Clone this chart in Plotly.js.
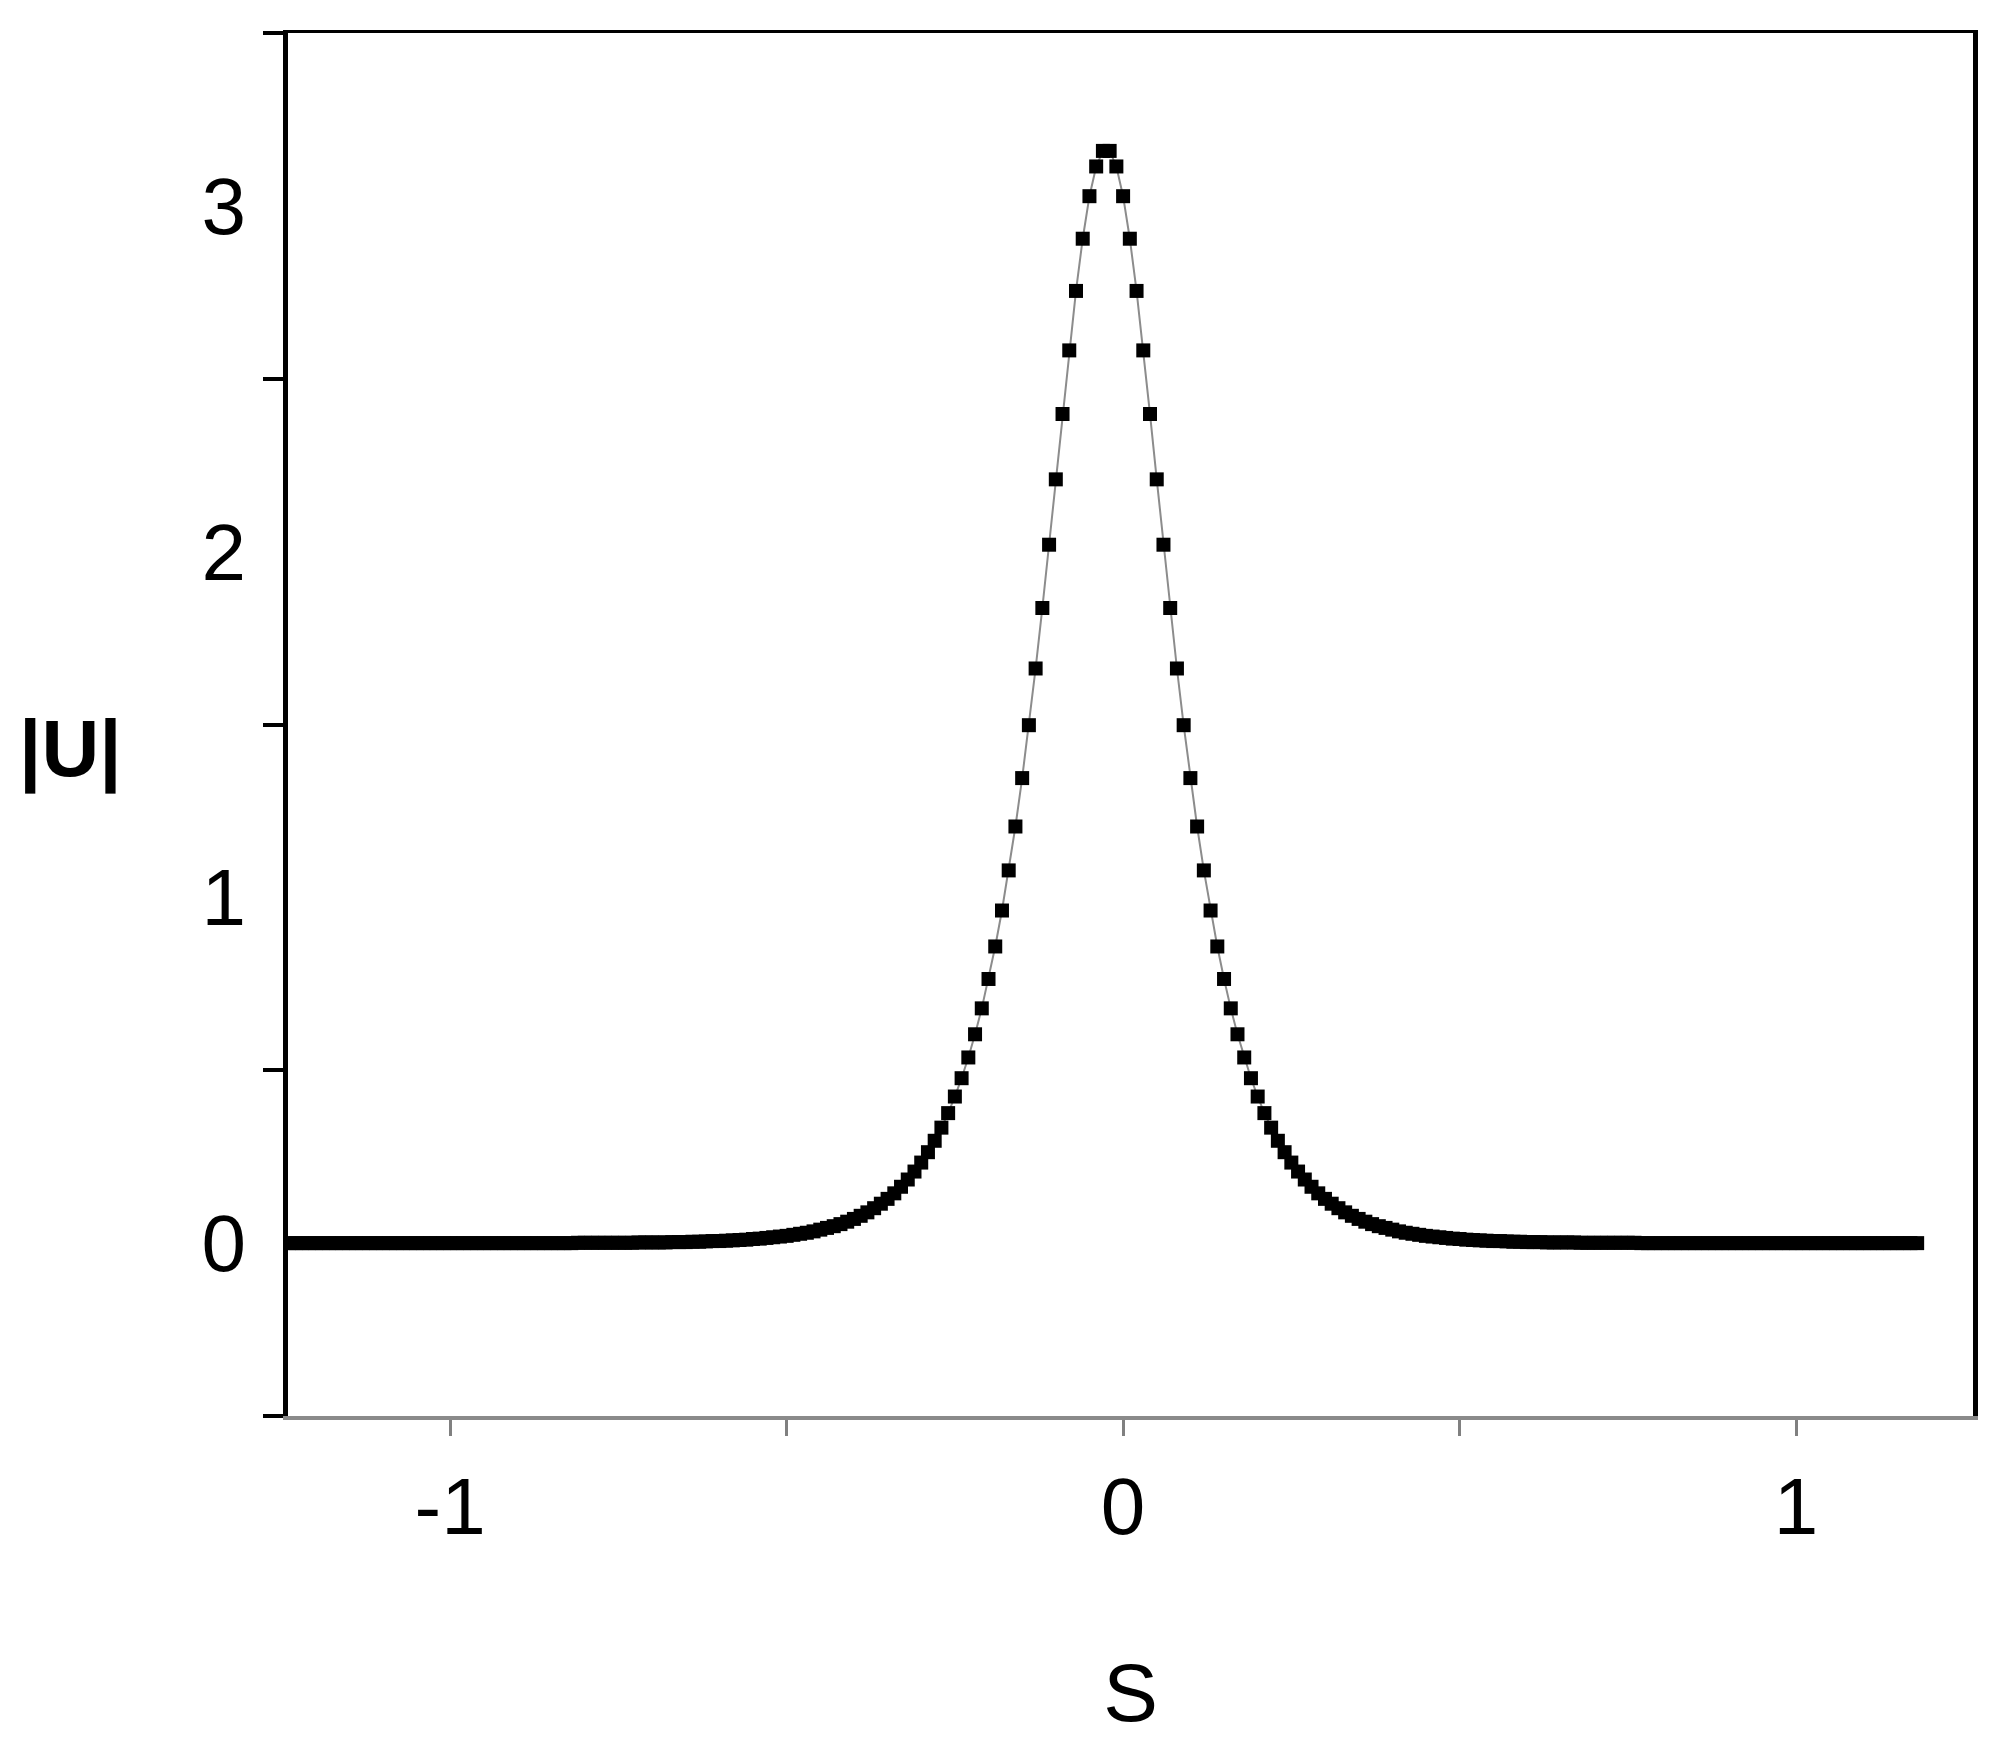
<!DOCTYPE html>
<html>
<head>
<meta charset="utf-8">
<script src="https://cdn.plot.ly/plotly-3.0.1.min.js"></script>
<style>
  html, body { margin: 0; padding: 0; background: #fff; }
  #chart { width: 2004px; height: 1757px; }
</style>
</head>
<body>
<div id="chart"></div>
<script>
// S grid: first sample and step
const sStart = -1.24;
const sStep = 0.01;

// |U|, one value per sample, left to right
const absU = [
  0, 0, 0, 0, 0, 0, 0, 0, 0, 0,
  0, 0, 0, 0, 0, 0, 0, 0, 0, 0,
  0, 0, 0, 0, 0, 0, 0, 0, 0, 0,
  0, 0, 0, 0, 0, 0, 0, 0, 0, 0,
  0, 0, 0,
  0.001, 0.001, 0.001, 0.001, 0.001, 0.001, 0.001, 0.001, 0.001,
  0.002, 0.002, 0.002, 0.002, 0.002, 0.003, 0.003, 0.003, 0.004, 0.004,
  0.005, 0.006, 0.006, 0.007, 0.008, 0.009, 0.010, 0.012, 0.013, 0.015,
  0.017, 0.019, 0.021, 0.024, 0.027, 0.030, 0.034, 0.039, 0.044, 0.049,
  0.055, 0.062, 0.070, 0.079, 0.089, 0.101, 0.114, 0.128, 0.144, 0.163,
  0.184, 0.207, 0.233, 0.263, 0.296, 0.334, 0.376, 0.424, 0.477, 0.537,
  0.604, 0.679, 0.764, 0.858, 0.962, 1.078, 1.205, 1.345, 1.498, 1.662,
  1.837, 2.020, 2.209, 2.398, 2.582, 2.754, 2.905, 3.028, 3.114, 3.159,
  3.159, 3.114, 3.028, 2.905, 2.754, 2.582, 2.398, 2.209, 2.020, 1.837,
  1.662, 1.498, 1.345, 1.205, 1.078, 0.962, 0.858, 0.764, 0.679, 0.604,
  0.537, 0.477, 0.424, 0.376, 0.334, 0.296, 0.263, 0.233, 0.207, 0.184,
  0.163, 0.144, 0.128, 0.114, 0.101, 0.089, 0.079, 0.070, 0.062, 0.055,
  0.049, 0.044, 0.039, 0.034, 0.030, 0.027, 0.024, 0.021, 0.019, 0.017,
  0.015, 0.013, 0.012, 0.010, 0.009, 0.008, 0.007, 0.006, 0.006, 0.005,
  0.004, 0.004, 0.003, 0.003, 0.003, 0.002, 0.002, 0.002, 0.002, 0.002,
  0.001, 0.001, 0.001, 0.001, 0.001, 0.001, 0.001, 0.001, 0.001,
  0, 0, 0, 0, 0, 0, 0, 0, 0, 0,
  0, 0, 0, 0, 0, 0, 0, 0, 0, 0,
  0, 0, 0, 0, 0, 0, 0, 0, 0, 0,
  0, 0, 0, 0, 0, 0, 0, 0, 0, 0,
  0, 0
];

const sTicks = [-1, -0.5, 0, 0.5, 1];
const sTickText = ['-1', '', '0', '', '1'];
const uTickMarks = [-0.5, 0.5, 1.5, 2.5, 3.5];
const uLabelVals = [0, 1, 2, 3];
const uLabelText = ['0', '1', '2', '3'];

const font = 'Liberation Sans, Arial, sans-serif';

const trace = {
  y: absU,
  x0: sStart,
  dx: sStep,
  type: 'scatter',
  mode: 'lines+markers',
  line: {color: '#8c8c8c', width: 2},
  marker: {symbol: 'square', size: 14, color: '#000'},
  showlegend: false,
  hoverinfo: 'skip'
};

// empty trace so the top frame axis gets drawn
const topFrame = {
  x: [null], y: [null],
  xaxis: 'x2', yaxis: 'y',
  type: 'scatter', mode: 'lines',
  showlegend: false, hoverinfo: 'skip'
};

const layout = {
  width: 2004,
  height: 1757,
  paper_bgcolor: '#fff',
  plot_bgcolor: '#fff',
  margin: {l: 288, r: 31, t: 33, b: 341},
  font: {family: font, color: '#000'},
  xaxis: {
    range: [-1.241, 1.263],
    showline: true, linecolor: '#8a8a8a', linewidth: 4,
    ticks: 'outside', tickvals: sTicks, ticktext: sTickText,
    ticklen: 16, tickwidth: 3, tickcolor: '#808080',
    tickfont: {size: 80, family: font},
    ticklabelstandoff: 2,
    showgrid: false, zeroline: false,
    title: {text: 'S', font: {size: 82, family: font}, standoff: 115}
  },
  xaxis2: {
    overlaying: 'x', side: 'top', anchor: 'y',
    range: [-1.241, 1.263],
    showline: true, linecolor: '#000', linewidth: 3,
    ticks: '', showticklabels: false, showgrid: false, zeroline: false
  },
  yaxis: {
    range: [-0.5, 3.5],
    showline: true, linecolor: '#000', linewidth: 5,
    mirror: true,
    ticks: '', tickvals: uLabelVals, ticktext: uLabelText,
    tickfont: {size: 80, family: font},
    ticklabelstandoff: 21,
    minor: {
      tickvals: uTickMarks, ticks: 'outside',
      ticklen: 20, tickwidth: 4, tickcolor: '#000', showgrid: false
    },
    showgrid: false, zeroline: false
  },
  annotations: [{
    text: '|U|',
    xref: 'paper', yref: 'paper',
    x: -0.129, y: 0.482,
    xanchor: 'center', yanchor: 'middle',
    showarrow: false,
    font: {size: 80, family: font, color: '#000', weight: 'bold'}
  }]
};

Plotly.newPlot('chart', [trace, topFrame], layout, {staticPlot: true});
</script>
</body>
</html>
